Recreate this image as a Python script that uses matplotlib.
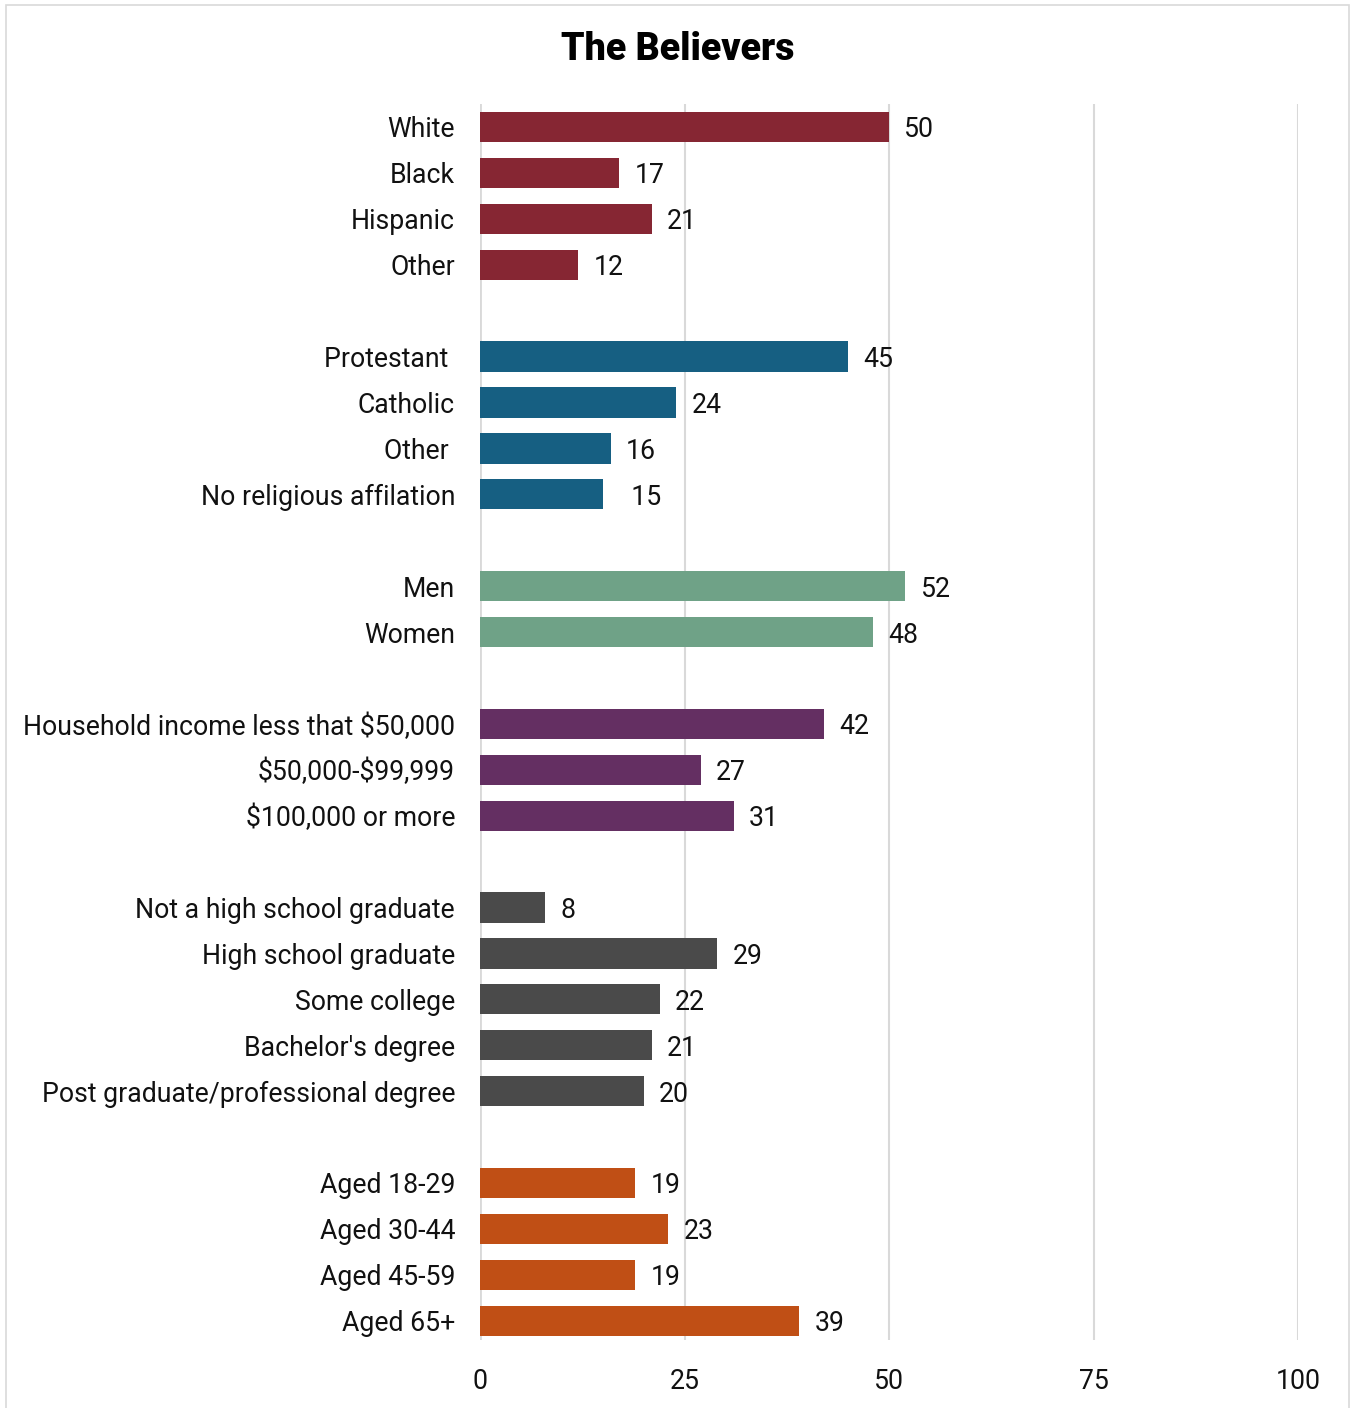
import matplotlib
matplotlib.use("Agg")
import matplotlib.pyplot as plt
from matplotlib.patches import Rectangle

plt.rcParams['font.family'] = ['Roboto', 'DejaVu Sans']
plt.rcParams['text.parse_math'] = False

# Data (groups separated by blank rows)
race_labels = ["White", "Black", "Hispanic", "Other"]
race_values = [50, 17, 21, 12]
religion_labels = ["Protestant ", "Catholic", "Other ", "No religious affilation"]
religion_values = [45, 24, 16, 15]
gender_labels = ["Men", "Women"]
gender_values = [52, 48]
income_labels = ["Household income less that $50,000", "$50,000-$99,999", "$100,000 or more"]
income_values = [42, 27, 31]
education_labels = ["Not a high school graduate", "High school graduate", "Some college",
                    "Bachelor's degree", "Post graduate/professional degree"]
education_values = [8, 29, 22, 21, 20]
age_labels = ["Aged 18-29", "Aged 30-44", "Aged 45-59", "Aged 65+"]
age_values = [19, 23, 19, 39]

groups = [
    (race_labels, race_values, "#862633"),
    (religion_labels, religion_values, "#165f82"),
    (gender_labels, gender_values, "#6fa287"),
    (income_labels, income_values, "#642f62"),
    (education_labels, education_values, "#4a4a4a"),
    (age_labels, age_values, "#c04f15"),
]
value_texts = {("No religious affilation", 15): "  15"}

xticks = [0, 25, 50, 75, 100]

FS = 19.2
fig = plt.figure(figsize=(13.53, 14.08), dpi=100)
fig.patches.append(Rectangle((6/1353, -0.01), 1343/1353, 1 - 5/1408 + 0.01,
                             transform=fig.transFigure, fill=False,
                             edgecolor="#d9d9d9", linewidth=1.2))
ax = fig.add_axes([480/1353, 1 - 1340/1408, 818/1353, 1236/1408])

pos = 0
ypos, ylabels = [], []
for labels, values, color in groups:
    for lab, val in zip(labels, values):
        ax.barh(pos, val, height=0.66, color=color, zorder=3)
        txt = value_texts.get((lab, val), str(val))
        ax.annotate(txt, (val, pos), xytext=(11, 0), textcoords="offset points",
                    va="center_baseline", ha="left", fontsize=FS, color="#111111")
        ypos.append(pos)
        ylabels.append(lab)
        pos += 1
    pos += 1
pos -= 1

ax.set_ylim(pos - 1 + 0.42, -0.5)
ax.set_xlim(0, 100)
ax.set_yticks(ypos)
ax.set_yticklabels(ylabels, fontsize=FS, color="#111111")
ax.set_xticks(xticks)
ax.set_xticklabels([str(x) for x in xticks], fontsize=FS, color="#111111")
ax.tick_params(axis="both", length=0)
ax.tick_params(axis="y", pad=18)
ax.tick_params(axis="x", pad=20)
for s in ax.spines.values():
    s.set_visible(False)
ax.grid(axis="x", color="#d9d9d9", linewidth=1.5, zorder=0)
ax.axvline(0, color="#d9d9d9", linewidth=2, zorder=1)

fig.text(678/1353, 1 - 50/1408, "The Believers", ha="center", va="center",
         fontsize=27, fontweight="heavy", color="#000000")

fig.savefig("out.png", dpi=100)
